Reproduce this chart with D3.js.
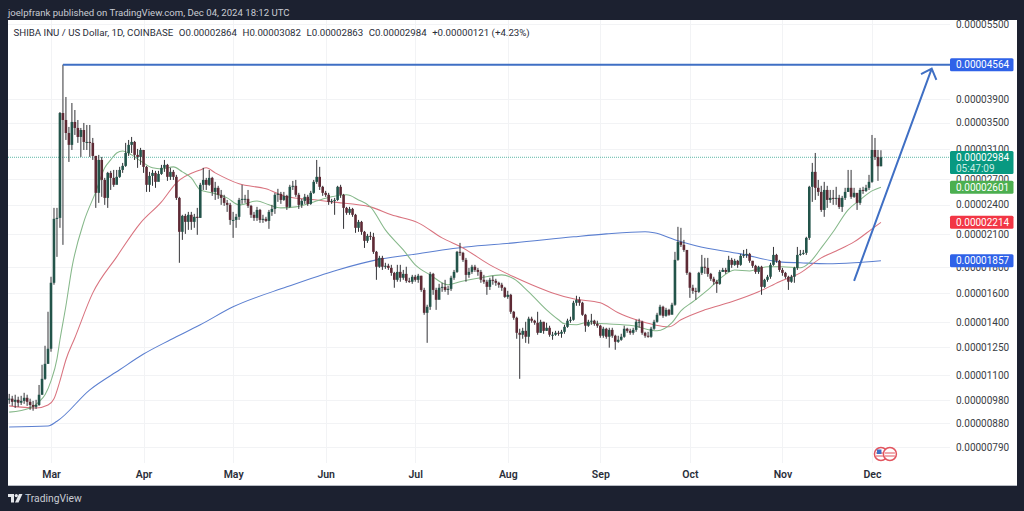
<!DOCTYPE html>
<html>
<head>
<meta charset="utf-8">
<script src="https://cdn.jsdelivr.net/npm/d3@7"></script>
<style>
  html, body { margin: 0; padding: 0; background: #1c2130; overflow: hidden; }
  svg { display: block; font-family: Roboto, "Noto Sans", sans-serif; }
</style>
</head>
<body>
<svg id="chart" width="1024" height="511"></svg>
<script>
// all prices are in units of 0.00000001 USD
const firstDay = "2024-02-16";
const firstOpen = 985;

const closes = [
  986,972,981,968,976,990,972,958,950,958,1004,1080,1157,1240,
  1678,2250,2260,3656,3541,3336,3159,3509,3414,3276,3382,3202,3202,3188,3003,2535,2948,2690,2477,2778,2715,2630,2728,2816,2869,3044,3159,3202,3017,2989,3086,
  2856,2630,2740,2778,2666,2765,2843,2882,2728,2791,2728,2477,2120,2281,2219,2292,2219,2271,2260,2630,2690,2630,2715,2546,2594,2512,2477,2421,2399,2239,
  2239,2271,2454,2466,2466,2388,2292,2260,2344,2239,2250,2229,2323,2355,2512,2523,2454,2500,2377,2606,2618,2512,2399,2443,2489,2410,2535,2666,2728,2606,2535,
  2512,2432,2443,2454,2606,2512,2366,2313,2355,2292,2159,2219,2120,2034,2081,2072,1934,1806,1881,1806,1814,1797,1756,1701,1764,1717,1748,1693,1686,1725,
  1701,1733,1624,1462,1503,1748,1624,1552,1640,1647,1624,1632,1717,1764,1934,1925,1864,1740,1764,1806,1780,1764,1701,1686,1647,1701,1693,1678,1663,1640,1573,
  1588,1469,1429,1334,1322,1346,1310,1423,1410,1397,1334,1403,1346,1365,1322,1322,1334,1328,1340,1371,1410,1416,1531,1552,1531,1449,1378,1403,1410,1390,1378,
  1316,1359,1310,1352,1316,1280,1292,1310,1359,1346,1334,1352,1403,1403,1334,1316,1310,1359,1403,1449,1503,1442,1482,1449,1517,1864,2024,1997,1951,1756,
  1640,1617,1610,1756,1806,1797,1748,1709,1686,1670,1764,1780,1764,1864,1822,1856,1822,1899,1907,1916,1856,1814,1764,1806,1647,1701,1725,1822,1907,1856,1780,
  1756,1725,1686,1725,1797,1907,1916,1925,2062,2606,2791,2594,2546,2344,2569,2454,2477,2466,2477,2377,2477,2546,2594,2489,2535,2421,2569,2558,2594,2666,
  3086,2989,2864,2984
];
const highs = [
  1008,999,1004,995,999,1013,1004,986,976,981,1050,1152,1257,1469,
  1725,2366,2366,3673,4564,3935,3430,3828,3707,3541,3414,3493,3461,3461,3261,3003,3017,2989,2715,2791,2804,2816,2816,2856,2908,3188,3231,3276,3217,3101,3116,
  3086,2869,2791,2816,2804,2804,2882,2948,2895,2843,2816,2753,2489,2292,2302,2323,2323,2302,2366,2654,2843,2715,2816,2728,2666,2618,2569,2512,2454,2421,
  2323,2302,2477,2630,2512,2569,2399,2323,2377,2355,2292,2271,2344,2399,2535,2582,2546,2546,2512,2630,2678,2690,2535,2466,2523,2512,2558,2690,2948,2856,2618,
  2558,2535,2466,2477,2618,2630,2523,2377,2377,2366,2302,2239,2229,2129,2100,2120,2110,1942,1899,1899,1839,1831,1822,1764,1822,1822,1780,1806,1717,1740,
  1740,1748,1733,1640,1517,1764,1756,1640,1670,1678,1701,1655,1733,1780,1942,2015,1934,1881,1797,1822,1822,1797,1780,1740,1701,1717,1733,1709,1686,1678,1647,
  1617,1595,1475,1436,1359,1365,1403,1436,1436,1416,1469,1416,1403,1397,1378,1340,1346,1346,1352,1384,1423,1436,1545,1581,1573,1538,1455,1416,1455,1416,1410,
  1384,1371,1365,1365,1365,1322,1316,1328,1378,1365,1359,1365,1416,1423,1410,1340,1340,1371,1416,1462,1517,1510,1496,1489,1531,1934,2169,2159,2043,1934,
  1764,1663,1640,1764,1907,1881,1881,1756,1725,1701,1780,1797,1797,1899,1881,1873,1864,1916,1951,1960,1925,1856,1822,1814,1814,1709,1740,1839,1978,1916,1864,
  1797,1764,1733,1740,1806,1978,1951,1951,2072,2618,2908,3044,2690,2618,2666,2618,2569,2569,2606,2512,2500,2594,2816,2816,2594,2489,2594,2606,2630,2753,
  3306,3261,3086,3082
];
const lows = [
  963,954,945,950,958,963,954,937,933,941,954,1004,1075,1157,
  1223,1663,1890,2159,1997,3231,2921,3086,3306,3188,2989,3086,3086,2989,2948,2366,2421,2489,2399,2366,2569,2606,2642,2715,2778,2856,3003,3044,2948,2843,2882,
  2778,2546,2546,2618,2594,2678,2753,2791,2678,2690,2690,2454,1839,2043,2100,2139,2139,2159,2091,2260,2569,2569,2618,2500,2454,2466,2399,2388,2323,2189,
  2062,2159,2239,2410,2421,2366,2260,2229,2229,2209,2209,2219,2149,2281,2302,2432,2410,2443,2344,2366,2569,2489,2355,2366,2410,2388,2399,2523,2642,2569,2500,
  2489,2399,2410,2292,2443,2477,2149,2292,2292,2271,2110,2120,2091,1969,2015,2043,1916,1701,1797,1780,1789,1780,1733,1640,1686,1686,1701,1678,1678,1670,
  1686,1678,1610,1449,1274,1482,1588,1482,1573,1610,1610,1588,1617,1701,1756,1899,1847,1686,1717,1748,1764,1733,1678,1670,1588,1624,1663,1655,1640,1617,1566,
  1559,1455,1416,1298,1080,1298,1274,1269,1397,1384,1322,1334,1328,1346,1310,1292,1316,1316,1304,1328,1365,1397,1410,1510,1510,1442,1340,1371,1384,1378,1365,
  1304,1304,1298,1246,1304,1234,1274,1286,1304,1334,1322,1322,1340,1365,1322,1304,1304,1304,1352,1397,1442,1429,1436,1442,1496,1510,1856,1978,1934,1740,
  1566,1595,1552,1602,1740,1748,1725,1693,1663,1602,1663,1764,1748,1764,1797,1814,1797,1814,1881,1881,1839,1797,1748,1748,1588,1640,1686,1709,1814,1839,1764,
  1733,1709,1624,1678,1678,1780,1899,1907,1907,2043,2432,2454,2500,2323,2271,2366,2421,2399,2399,2355,2323,2454,2546,2466,2477,2344,2399,2523,2546,2569,
  2654,2948,2678,2863
];

const greenDates = ["02-16","02-23","02-26","02-28","03-01","03-03","03-04","03-06","03-08","03-12","03-16","03-19","03-21","03-23","03-25","03-28","03-31","04-04","04-07","04-11","04-14","04-17","04-20","04-24","04-29","05-03","05-09","05-13","05-17","05-22","05-28","06-03","06-08","06-12","06-16","06-21","06-27","07-01","07-06","07-12","07-16","07-23","07-30","08-03","08-08","08-14","08-18","08-20","08-24","08-27","09-03","09-12","09-20","09-25","09-28","10-02","10-07","10-11","10-16","10-21","10-27","11-01","11-07","11-10","11-14","11-18","11-23","11-27","12-01","12-04"];
const greenValues = [927,945,972,1004,1070,1184,1292,1510,1797,2219,2546,2843,2948,3044,3072,3017,2935,2843,2829,2856,2791,2715,2569,2535,2477,2399,2443,2399,2366,2377,2432,2489,2512,2454,2377,2139,1951,1822,1740,1663,1686,1717,1740,1709,1610,1482,1416,1390,1384,1397,1390,1378,1346,1397,1475,1538,1624,1709,1780,1772,1806,1806,1797,1839,1969,2120,2344,2454,2558,2601];

const redDates = ["02-16","02-25","02-29","03-02","03-04","03-06","03-09","03-15","03-23","03-31","04-07","04-12","04-20","04-22","04-25","05-03","05-12","05-19","05-29","06-03","06-16","06-23","07-02","07-10","07-17","07-26","08-03","08-09","08-16","08-23","09-01","09-07","09-13","09-19","09-24","09-28","10-06","10-15","10-24","10-31","11-07","11-14","11-19","11-25","12-01","12-04"];
const redValues = [954,945,958,986,1070,1179,1304,1602,1890,2209,2432,2654,2816,2843,2778,2642,2582,2489,2454,2432,2377,2292,2209,2062,1969,1822,1725,1663,1602,1559,1531,1462,1416,1384,1371,1416,1482,1538,1610,1686,1756,1881,1942,2024,2149,2214];

const blueDates = ["02-16","02-29","03-03","03-14","03-24","04-01","04-10","04-20","05-01","05-19","06-05","06-18","06-29","07-18","08-03","08-23","09-03","09-16","09-19","09-27","10-03","10-18","10-31","11-07","11-16","11-25","12-04"];
const blueValues = [866,870,889,1027,1126,1210,1292,1384,1503,1647,1780,1864,1907,1978,2015,2072,2100,2120,2110,2034,1988,1916,1847,1839,1831,1839,1857];

// drawn on the chart by the author
const targetStart = "03-05";
const targetPrice = 4564;
const arrowDates = ["11-25","12-21"];
const arrowValues = [1693,4480];

const priceTicks = [5500,3900,3500,3100,2700,2400,2100,1800,1600,1400,1250,1100,980,880,790];
const monthTicks = ["03-01","04-01","05-01","06-01","07-01","08-01","09-01","10-01","11-01","12-01"];
const eventDates = ["12-04","12-07"];

const lastPrice = 2984;
const priceBoxes = [
  { label: "0.00004564", value: 4564, color: "#2f62e8" },
  { label: "0.00002601", value: 2601, color: "#4caf50" },
  { label: "0.00002214", value: 2214, color: "#f23645" },
  { label: "0.00001857", value: 1857, color: "#2f62e8" }
];

const headerText = "joelpfrank published on TradingView.com, Dec 04, 2024 18:12 UTC";
const legendText = "SHIBA INU / US Dollar, 1D, COINBASE";
const legendValues = ["O0.00002864","H0.00003082","L0.00002863","C0.00002984","+0.00000121 (+4.23%)"];

const parseDay = d3.utcParse("%Y-%m-%d");
const day = s => parseDay("2024-" + s);
const fmtPrice = v => (v * 1e-8).toFixed(8);

const pane = { left: 8, right: 950, top: 20, bottom: 463 };

const x = d3.scaleUtc().domain([day("03-01"), day("12-01")]).range([51, 872]);
const y = d3.scaleLog().domain([790, 5500]).range([447, 24]);

const svg = d3.select("#chart");

// frame
svg.append("rect").attr("x", 8).attr("y", 20).attr("width", 1009).attr("height", 465.5)
  .attr("fill", "#fff");
svg.append("line").attr("x1", 8).attr("x2", 1017).attr("y1", 485.5).attr("y2", 485.5)
  .attr("stroke", "#b8bcc4");

// grid
const grid = svg.append("g").attr("stroke", "#f2f3f5").attr("stroke-width", 1);
grid.selectAll(".h").data(priceTicks).join("line").attr("class", "h")
  .attr("x1", pane.left).attr("x2", pane.right)
  .attr("y1", d => Math.round(y(d)) + 0.5).attr("y2", d => Math.round(y(d)) + 0.5);
grid.selectAll(".v").data(monthTicks).join("line").attr("class", "v")
  .attr("y1", pane.top).attr("y2", pane.bottom)
  .attr("x1", d => Math.round(x(day(d))) + 0.5).attr("x2", d => Math.round(x(day(d))) + 0.5);

// axes
const yAxis = svg.append("g").attr("transform", "translate(956,0)")
  .call(d3.axisRight(y).tickValues(priceTicks).tickFormat(fmtPrice).tickSize(0).tickPadding(0));
yAxis.select(".domain").remove();
yAxis.selectAll("text").attr("font-size", 10).attr("font-family", "Roboto").attr("fill", "#3a3d45");

const xAxis = svg.append("g").attr("transform", "translate(0,471)")
  .call(d3.axisBottom(x).tickValues(monthTicks.map(day)).tickFormat(d3.utcFormat("%b")).tickSize(0).tickPadding(0));
xAxis.select(".domain").remove();
xAxis.selectAll("text").attr("font-size", 10.5).attr("font-family", "Roboto").attr("font-weight", 600).attr("fill", "#2a2e39");

// moving averages
function drawAverage(dates, values, color) {
  const line = d3.line().x(d => x(day(d[0]))).y(d => y(d[1])).curve(d3.curveMonotoneX);
  svg.append("path").datum(d3.zip(dates, values))
    .attr("d", line).attr("fill", "none").attr("stroke", color).attr("stroke-width", 1.05);
}
drawAverage(blueDates, blueValues, "#5b7fd0");
drawAverage(redDates, redValues, "#d9737f");
drawAverage(greenDates, greenValues, "#86b88a");

// last price line
svg.append("line").attr("x1", pane.left).attr("x2", pane.right)
  .attr("y1", y(lastPrice)).attr("y2", y(lastPrice))
  .attr("stroke", "#5fb8a8").attr("stroke-dasharray", "1 1").attr("stroke-width", 1);

// candles
const start = parseDay(firstDay);
const candles = closes.map((c, i) => ({
  date: d3.utcDay.offset(start, i),
  open: i ? closes[i - 1] : firstOpen,
  close: c,
  high: highs[i],
  low: lows[i]
}));

const candle = svg.append("g").selectAll("g").data(candles).join("g");
candle.append("line")
  .attr("x1", d => x(d.date)).attr("x2", d => x(d.date))
  .attr("y1", d => y(d.high)).attr("y2", d => y(d.low))
  .attr("stroke", "#333337").attr("stroke-width", 1);
candle.append("rect")
  .attr("x", d => x(d.date) - 1.3).attr("width", 2.6)
  .attr("y", d => y(Math.max(d.open, d.close)))
  .attr("height", d => Math.max(1, Math.abs(y(d.open) - y(d.close))))
  .attr("fill", d => d.close >= d.open ? "#23544a" : "#5e2a35");

// target line and arrow
svg.append("line")
  .attr("x1", x(day(targetStart))).attr("x2", pane.right)
  .attr("y1", y(targetPrice)).attr("y2", y(targetPrice))
  .attr("stroke", "#3f6fc4").attr("stroke-width", 2);

const ax0 = x(day(arrowDates[0])), ay0 = y(arrowValues[0]);
const ax1 = x(day(arrowDates[1])), ay1 = y(arrowValues[1]);
const ang = Math.atan2(ay1 - ay0, ax1 - ax0);
const barb = 12;
const barbAt = a => [ax1 - barb * Math.cos(ang + a), ay1 - barb * Math.sin(ang + a)];
const arrowPath = d3.path();
arrowPath.moveTo(ax0, ay0);
arrowPath.lineTo(ax1, ay1);
arrowPath.moveTo(...barbAt(0.75));
arrowPath.lineTo(ax1, ay1);
arrowPath.lineTo(...barbAt(-0.75));
svg.append("path").attr("d", arrowPath.toString()).attr("fill", "none")
  .attr("stroke", "#3f6fc4").attr("stroke-width", 2);

// price boxes on the right
const boxes = svg.append("g").selectAll("g").data(priceBoxes).join("g")
  .attr("transform", d => `translate(950,${y(d.value)})`);
boxes.append("rect").attr("y", -6.5).attr("width", 63.5).attr("height", 13).attr("rx", 1.5)
  .attr("fill", d => d.color);
boxes.append("text").attr("x", 6).attr("dy", "0.35em").attr("font-size", 10)
  .attr("fill", "#fff").text(d => d.label);

const lastBox = svg.append("g").attr("transform", "translate(950,151)");
lastBox.append("rect").attr("width", 63.5).attr("height", 23).attr("rx", 1.5).attr("fill", "#089981");
lastBox.append("text").attr("x", 6).attr("y", 10).attr("font-size", 10)
  .attr("fill", "#fff").text(fmtPrice(lastPrice));
lastBox.append("text").attr("x", 6).attr("y", 20.5).attr("font-size", 10)
  .attr("fill", "#c8ece4").text("05:47:09");

// economic event badges
const badges = svg.append("g").selectAll("g").data(eventDates).join("g")
  .attr("transform", d => `translate(${x(day(d))},454)`);
badges.append("circle").attr("r", 6.5).attr("fill", "#fff").attr("stroke", "#e2555f").attr("stroke-width", 1.5);
badges.append("path").attr("d", "M-5 -1H5M-5 2H5").attr("stroke", "#e2555f").attr("stroke-width", 1.2);
badges.filter((d, i) => i === 0).append("rect")
  .attr("x", -4).attr("y", -4.5).attr("width", 4.5).attr("height", 4.5).attr("fill", "#3f6fc4");

// header, legend, footer
svg.append("text").attr("x", 8).attr("y", 16).attr("font-size", 9.6).attr("fill", "#c9ccd3").text(headerText);

const legend = svg.append("text").attr("x", 13.5).attr("y", 36).attr("font-size", 9.7).attr("fill", "#2a2e39");
legend.append("tspan").text(legendText);
legend.selectAll(".val").data(legendValues).join("tspan").attr("class", "val")
  .attr("dx", 5.5).text(d => d);

const logo = svg.append("g").attr("transform", "translate(8,494)").attr("fill", "#e4e6ea");
logo.append("path").attr("d", "M0 0H6V8.5H3V3H0Z");
logo.append("circle").attr("cx", 8.3).attr("cy", 1.6).attr("r", 1.6);
logo.append("path").attr("d", "M11 0H14.5L10.5 8.5H7Z");
svg.append("text").attr("x", 25).attr("y", 502).attr("font-size", 10.3).attr("fill", "#c9ccd3").text("TradingView");
</script>
</body>
</html>
